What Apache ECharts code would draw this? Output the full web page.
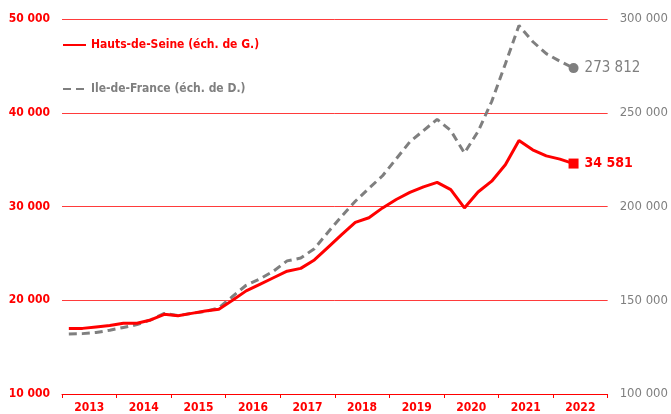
<!DOCTYPE html>
<html lang="fr">
<head>
<meta charset="UTF-8">
<title>Hauts-de-Seine / Ile-de-France</title>
<script src="https://cdn.jsdelivr.net/npm/echarts@6/dist/echarts.min.js"></script>
<style>
  html, body { margin: 0; padding: 0; background: #fff; }
  #chart { width: 671px; height: 414px; }
</style>
</head>
<body>
<div id="chart"></div>
<script>
// Données : trimestres 2013 T1 -> 2022 T2
const years = ['2013', '2014', '2015', '2016', '2017', '2018', '2019', '2020', '2021', '2022'];
const quarters = years.flatMap(y => ['T1', 'T2', 'T3', 'T4'].map(q => y + ' ' + q)).slice(0, 38);

// Hauts-de-Seine (échelle de gauche)
const hautsDeSeine = [
  17000, 17000, 17150, 17300,
  17550, 17550, 17900, 18500,
  18350, 18600, 18850, 19050,
  20000, 21000, 21700, 22400,
  23100, 23400, 24300, 25650,
  27000, 28300, 28800, 29850,
  30750, 31500, 32100, 32580,
  31800, 29850, 31550, 32700,
  34450, 37050, 36050, 35400,
  35050, 34581
];

// Ile-de-France (échelle de droite)
const ileDeFrance = [
  132000, 132200, 132800, 134000,
  135500, 137000, 139500, 143000,
  141800, 143000, 144000, 146000,
  152000, 158000, 161300, 165500,
  171000, 172500, 177500, 186300,
  194800, 202800, 209700, 216400,
  225400, 234500, 240500, 246500,
  240500, 228500, 240000, 256000,
  276000, 296500, 288000, 281500,
  277500, 273812
];

const fmt = v => String(v).replace(/\B(?=(\d{3})+(?!\d))/g, ' ');
const RED = '#ff0000';
const GREY = '#7f7f7f';
const FONT = 'DejaVu Sans Condensed';

// position de chaque trimestre au milieu de sa case
function points(values, last) {
  return values.map((v, i) => {
    if (i !== values.length - 1) return [i + 0.5, v];
    return { value: [i + 0.5, v], ...last };
  });
}

const chart = echarts.init(document.getElementById('chart'));
chart.setOption({
  animation: false,
  textStyle: { fontFamily: FONT },
  grid: { left: 62, right: 61, top: 19, bottom: 19, containLabel: false },
  legend: {
    orient: 'vertical',
    left: 62,
    top: 39,
    padding: 0,
    itemWidth: 23,
    itemHeight: 14,
    itemGap: 32,
    itemStyle: { opacity: 0 },
    data: [
      { name: 'Hauts-de-Seine (éch. de G.)', textStyle: { color: RED } },
      { name: 'Ile-de-France (éch. de D.)', textStyle: { color: GREY } }
    ],
    textStyle: { fontFamily: FONT, fontSize: 12, fontWeight: 'bold' }
  },
  xAxis: [
    {
      type: 'category',
      data: years,
      boundaryGap: true,
      axisLine: { lineStyle: { color: RED, width: 1 } },
      axisTick: { show: true, length: 4, alignWithLabel: false, lineStyle: { color: RED } },
      axisLabel: { color: RED, fontWeight: 'bold', fontSize: 12, fontFamily: FONT, margin: 8 },
      splitLine: { show: false }
    },
    {
      type: 'value',
      min: 0,
      max: 40,
      show: false
    }
  ],
  yAxis: [
    {
      type: 'value',
      min: 10000,
      max: 50000,
      interval: 10000,
      axisLine: { show: false },
      axisTick: { show: false },
      axisLabel: { color: RED, fontWeight: 'bold', fontSize: 12, fontFamily: FONT, margin: 12, formatter: fmt },
      splitLine: { lineStyle: { color: '#ff3b3b', width: 1 } }
    },
    {
      type: 'value',
      min: 100000,
      max: 300000,
      interval: 50000,
      position: 'right',
      axisLine: { show: false },
      axisTick: { show: false },
      axisLabel: { color: GREY, fontSize: 13, fontFamily: FONT, margin: 12, formatter: fmt },
      splitLine: { show: false }
    }
  ],
  series: [
    {
      name: 'Ile-de-France (éch. de D.)',
      type: 'line',
      xAxisIndex: 1,
      yAxisIndex: 1,
      symbol: 'none',
      showSymbol: true,
      color: GREY,
      lineStyle: { color: GREY, width: 3, type: [8, 5] },
      data: points(ileDeFrance, {
        symbol: 'circle',
        symbolSize: 10,
        itemStyle: { color: GREY },
        label: {
          show: true, position: 'right', distance: 6,
          color: GREY, fontSize: 15, fontFamily: FONT,
          formatter: p => fmt(p.value[1])
        }
      }),
      z: 2
    },
    {
      name: 'Hauts-de-Seine (éch. de G.)',
      type: 'line',
      xAxisIndex: 1,
      yAxisIndex: 0,
      symbol: 'none',
      showSymbol: true,
      color: RED,
      lineStyle: { color: RED, width: 3 },
      data: points(hautsDeSeine, {
        symbol: 'rect',
        symbolSize: 10,
        itemStyle: { color: RED },
        label: {
          show: true, position: 'right', distance: 6,
          color: RED, fontSize: 14, fontWeight: 'bold', fontFamily: FONT,
          formatter: p => fmt(p.value[1])
        }
      }),
      z: 3
    }
  ]
});
</script>
</body>
</html>
